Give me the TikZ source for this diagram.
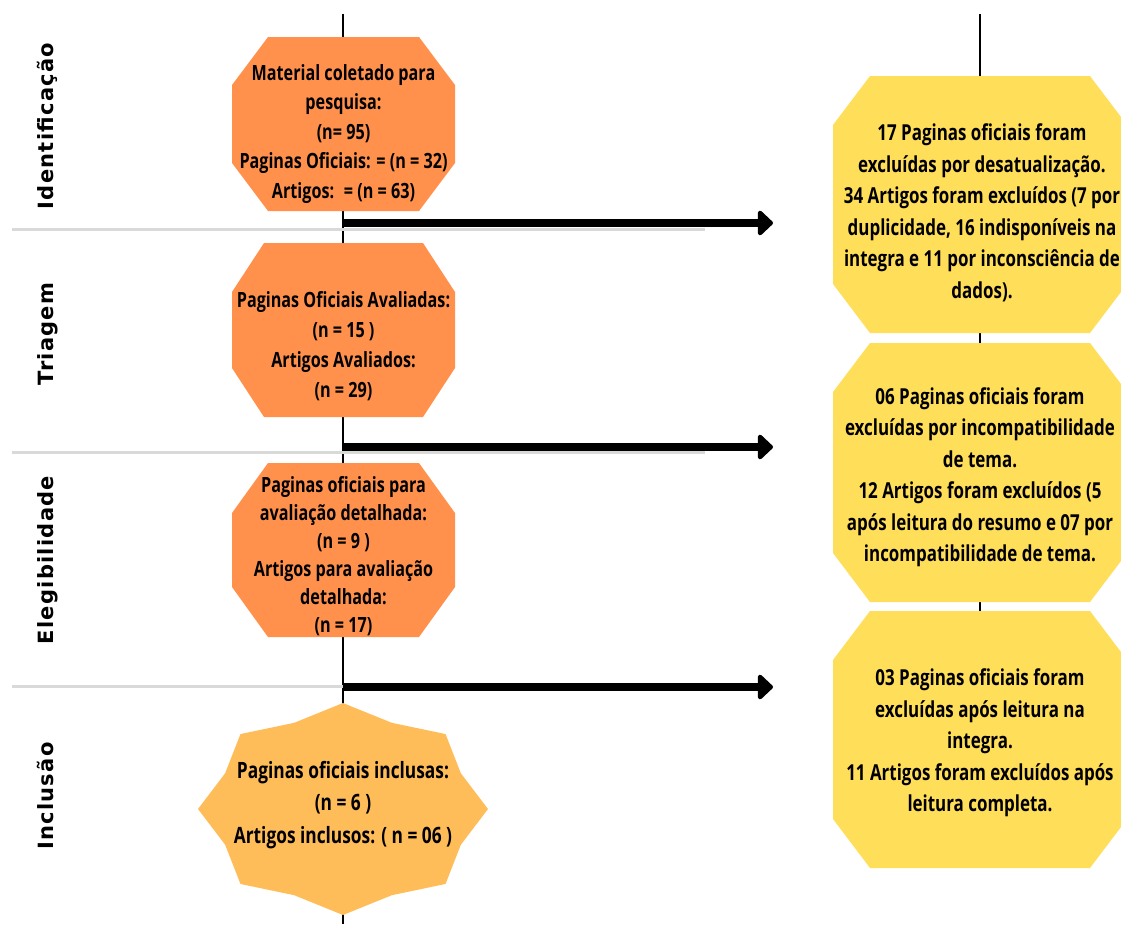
\documentclass[tikz,border=0pt]{standalone}
\usepackage{fontspec}
\usetikzlibrary{arrows.meta}
\newfontfamily\boxfont[FakeStretch=0.77]{Open Sans}
\newfontfamily\labfont[LetterSpace=6]{DejaVu Sans}
\definecolor{orangebox}{HTML}{FF914D}
\definecolor{starbox}{HTML}{FFBD59}
\definecolor{yellowbox}{HTML}{FFDE59}
\definecolor{grayline}{HTML}{D9D9D9}
\newcommand\octshape[7]{\fill[#7] ({#1-#3+#5},{#2-#4}) -- ({#1+#3-#5},{#2-#4}) -- ({#1+#3},{#2-#4+#6}) -- ({#1+#3},{#2+#4-#6}) -- ({#1+#3-#5},{#2+#4}) -- ({#1-#3+#5},{#2+#4}) -- ({#1-#3},{#2+#4-#6}) -- ({#1-#3},{#2-#4+#6}) -- cycle;}
\tikzset{
  spine/.style={line width=2.4pt, black},
  sepline/.style={line width=3pt, grayline},
  flowarrow/.style={line width=8pt, -{Triangle[length=16pt,width=29pt,round,line width=4pt]}},
  stagelabel/.style={rotate=90, anchor=base, inner sep=0pt, font=\labfont\bfseries\fontsize{21}{25}\selectfont},
  orangetext/.style={align=center, inner sep=0pt, text=black, font=\boxfont\bfseries\fontsize{21}{29.5}\selectfont},
  yellowtext/.style={align=center, inner sep=0pt, text=black, font=\boxfont\bfseries\fontsize{22}{31.5}\selectfont},
  startext/.style={align=center, inner sep=0pt, text=black, font=\boxfont\bfseries\fontsize{22.5}{32.5}\selectfont},
}
\begin{document}
\begin{tikzpicture}[x=1pt,y=-1pt]
\useasboundingbox (0,0) rectangle (1121,924);
% spines
\coordinate (ltop) at (343,14);
\coordinate (lbot) at (343,924);
\coordinate (rtop) at (980,14);
\coordinate (rbot) at (980,611);
\draw[spine] (ltop) -- (lbot);
\draw[spine, line width=2pt] (rtop) -- (rbot);
% separators
\coordinate (g1a) at (12,229); \coordinate (g1b) at (705,229);
\coordinate (g2a) at (12,452); \coordinate (g2b) at (705,452);
\coordinate (g3a) at (12,686); \coordinate (g3b) at (705,686);
\draw[sepline] (g1a) -- (g1b);
\draw[sepline] (g2a) -- (g2b);
\draw[sepline] (g3a) -- (g3b);
% arrows
\coordinate (a1s) at (343,223); \coordinate (a1e) at (773,223);
\coordinate (a2s) at (343,447); \coordinate (a2e) at (773,447);
\coordinate (a3s) at (343,687); \coordinate (a3e) at (773,687);
\draw[flowarrow] (a1s) -- (a1e);
\draw[flowarrow] (a2s) -- (a2e);
\draw[flowarrow] (a3s) -- (a3e);
% orange boxes
\octshape{343.5}{124}{111.5}{87}{36}{48}{orangebox}
\octshape{343.5}{330}{111.5}{87}{32}{49}{orangebox}
\octshape{343.5}{550}{111.5}{87}{36}{50}{orangebox}
% yellow boxes
\octshape{980}{204.5}{147}{128.5}{37}{49}{yellowbox}
\octshape{980}{472.5}{147}{129.5}{37}{49}{yellowbox}
\octshape{980}{739.5}{147}{128.5}{37}{49}{yellowbox}
% star
\begin{scope}[shift={(343,809)}]
\fill[starbox] (0:145 and 106) -- (22.5:127.6 and 93.3) -- (45:145 and 106) -- (67.5:127.6 and 93.3)
 -- (90:145 and 106) -- (112.5:127.6 and 93.3) -- (135:145 and 106) -- (157.5:127.6 and 93.3)
 -- (180:145 and 106) -- (202.5:127.6 and 93.3) -- (225:145 and 106) -- (247.5:127.6 and 93.3)
 -- (270:145 and 106) -- (292.5:127.6 and 93.3) -- (315:145 and 106) -- (337.5:127.6 and 93.3) -- cycle;
\end{scope}
% stage labels
\node[stagelabel] (lid) at (53,126) {Identificação};
\node[stagelabel] (ltr) at (53,334) {Triagem};
\node[stagelabel] (lel) at (53,560) {Elegibilidade};
\node[stagelabel] (lin) at (53,796) {Inclusão};
% texts
\node[orangetext] (o1) at (343.5,134) {Material coletado para\\pesquisa:\\(n= 95)\\Paginas Oficiais: = (n = 32)\\Artigos:~ = (n = 63)};
\node[orangetext, font=\boxfont\bfseries\fontsize{21}{30}\selectfont] (o2) at (343.5,346) {Paginas Oficiais Avaliadas:\\(n = 15 )\\Artigos Avaliados:\\(n = 29)};
\node[orangetext, font=\boxfont\bfseries\fontsize{21}{28}\selectfont] (o3) at (343.5,556) {Paginas oficiais para\\avaliação detalhada:\\(n = 9 )\\Artigos para avaliação\\detalhada:\\(n = 17)};
\node[startext] (s1) at (343,805) {Paginas oficiais inclusas:\\(n = 6 )\\Artigos inclusos: ( n = 06 )};
\node[yellowtext] (y1) at (982,213) {17 Paginas oficiais foram\\excluídas por desatualização.\\34 Artigos foram excluídos (7 por\\duplicidade, 16 indisponíveis na\\integra e 11 por inconsciência de\\dados).};
\node[yellowtext] (y2) at (980,477) {06 Paginas oficiais foram\\excluídas por incompatibilidade\\de tema.\\12 Artigos foram excluídos (5\\após leitura do resumo e 07 por\\incompatibilidade de tema.};
\node[yellowtext] (y3) at (980,743) {03 Paginas oficiais foram\\excluídas após leitura na\\integra.\\11 Artigos foram excluídos após\\leitura completa.};
\end{tikzpicture}
\end{document}
